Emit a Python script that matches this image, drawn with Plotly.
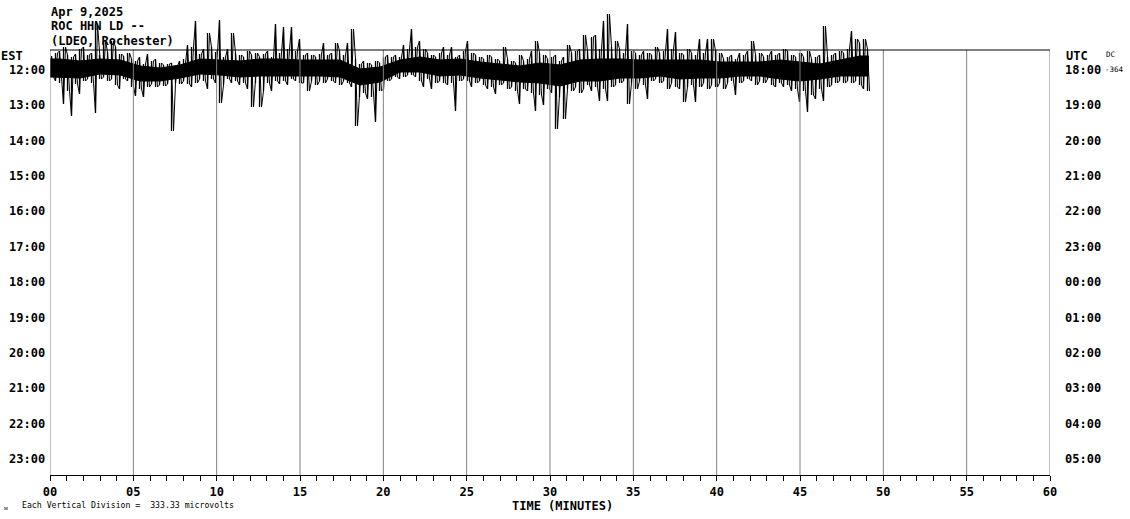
import plotly.graph_objects as go

# ---------------- data ----------------
est_hours = ["12:00", "13:00", "14:00", "15:00", "16:00", "17:00",
             "18:00", "19:00", "20:00", "21:00", "22:00", "23:00"]
utc_hours = ["18:00", "19:00", "20:00", "21:00", "22:00", "23:00",
             "00:00", "01:00", "02:00", "03:00", "04:00", "05:00"]
minute_ticks = [0, 5, 10, 15, 20, 25, 30, 35, 40, 45, 50, 55, 60]
minute_labels = ["00", "05", "10", "15", "20", "25", "30", "35", "40", "45", "50", "55", "60"]

# first line (12:00 EST) of the seismogram.
# per 0.24-minute column: upper and lower excursion (35.36 units = one line spacing)
column_minutes = 0.24
trace_upper = [13, 16, 18, 22, 14, 12, 15, 20, 22, 14,
               16, 45, 14, 28, 17, 28, 22, 15, 13, 16,
               10, 8, 12, 5, 15, 8, 10, 6, 4, 5,
               6, 3, 8, 10, 24, 22, 48, 15, 20, 36,
               22, 17, 49, 12, 20, 36, 16, 14, 12, 18,
               14, 16, 12, 15, 18, 12, 45, 16, 42, 20,
               42, 18, 30, 14, 16, 14, 12, 15, 26, 14,
               16, 26, 18, 14, 26, 40, 10, 5, 8, 6,
               4, 8, 6, 12, 14, 12, 14, 12, 24, 20,
               40, 22, 28, 20, 16, 14, 12, 16, 22, 14,
               22, 12, 14, 18, 28, 16, 14, 12, 10, 14,
               12, 10, 8, 22, 10, 8, 6, 14, 8, 10,
               18, 28, 16, 14, 10, 12, 14, 8, 12, 24,
               16, 18, 20, 34, 18, 32, 34, 20, 48, 55,
               22, 28, 20, 16, 45, 18, 16, 14, 18, 16,
               14, 22, 16, 18, 40, 20, 37, 16, 14, 20,
               16, 14, 30, 16, 30, 30, 18, 16, 10, 12,
               14, 10, 16, 14, 18, 28, 14, 16, 12, 14,
               18, 14, 16, 20, 18, 14, 12, 16, 12, 18,
               10, 12, 14, 43, 12, 14, 16, 18, 16, 20,
               38, 30, 26, 30, 20]
trace_lower = [-8, -12, -14, -35, -22, -47, -15, -25, -12, -10,
               -14, -44, -10, -8, -12, -10, -16, -20, -10, -12,
               -18, -27, -20, -28, -18, -15, -18, -16, -17, -15,
               -62, -14, -15, -12, -15, -18, -14, -10, -12, -20,
               -10, -14, -34, -16, -10, -14, -12, -16, -14, -20,
               -38, -14, -38, -22, -14, -22, -12, -15, -12, -16,
               -10, -12, -14, -14, -22, -12, -16, -12, -14, -10,
               -12, -14, -16, -12, -14, -18, -57, -28, -24, -30,
               -28, -53, -22, -20, -12, -10, -8, -10, -8, -6,
               -6, -8, -12, -18, -10, -20, -14, -12, -14, -16,
               -14, -42, -12, -10, -12, -18, -14, -12, -16, -20,
               -18, -25, -16, -14, -20, -18, -22, -35, -20, -22,
               -24, -42, -26, -36, -20, -24, -60, -28, -50, -20,
               -22, -18, -24, -20, -16, -22, -18, -32, -20, -32,
               -18, -16, -14, -12, -35, -14, -20, -12, -16, -30,
               -12, -10, -14, -12, -20, -14, -18, -20, -33, -18,
               -16, -33, -18, -14, -20, -16, -18, -14, -20, -14,
               -12, -26, -14, -12, -10, -12, -16, -12, -14, -10,
               -16, -18, -14, -18, -16, -22, -20, -33, -22, -43,
               -26, -30, -20, -32, -18, -16, -14, -12, -14, -12,
               -14, -12, -16, -20, -22]
# dense core of the trace, per 1.2-minute block (same units)
block_minutes = 1.2
core_upper = [10, 8, 10, 9, 3, 1, 4, 10, 9, 8,
              10, 10, 9, 9, 9, 0, 2, 9, 12, 9,
              10, 7, 5, 3, 6, 4, 9, 10, 10, 9,
              9, 9, 9, 7, 7, 7, 9, 7, 5, 9, 13]
core_lower = [-8, -9, -5, -6, -12, -12, -9, -5, -6, -8,
              -7, -7, -7, -7, -8, -16, -13, -3, -3, -7,
              -6, -9, -11, -13, -14, -17, -12, -12, -9, -9,
              -7, -10, -9, -9, -7, -7, -10, -12, -10, -7, -7]
units_per_line = 35.36
trace_end_minutes = 49.1

# ---------------- build figure ----------------
MONO = "DejaVu Sans Mono"
HALF_PX = 0.03  # half a pixel in minutes, keeps 1px strokes crisp
fig = go.Figure()

# core band (filled)
cx, cu, cl = [], [], []
for k, (u, l) in enumerate(zip(core_upper, core_lower)):
    cx.append(min((k + 0.5) * block_minutes, trace_end_minutes))
    cu.append(-u / units_per_line)
    cl.append(-l / units_per_line)
cx = [0] + cx + [trace_end_minutes]
cu = [cu[0]] + cu + [cu[-1]]
cl = [cl[0]] + cl + [cl[-1]]
fig.add_trace(go.Scatter(x=cx + cx[::-1], y=cu + cl[::-1], mode="lines",
                         fill="toself", fillcolor="black",
                         line=dict(color="black", width=1),
                         hoverinfo="skip", showlegend=False))

# per-column excursions (thin vertical strokes), two strokes per column
xs, ys = [], []
for i, (u, l) in enumerate(zip(trace_upper, trace_lower)):
    t = i * column_minutes + HALF_PX
    xs += [t + 0.06, t + 0.06, None]
    ys += [-u / units_per_line, -l / units_per_line, None]
fig.add_trace(go.Scatter(x=xs, y=ys, mode="lines",
                         line=dict(color="black", width=1.3),
                         hoverinfo="skip", showlegend=False))
# zig-zag linking neighbouring columns for the noisy texture
zx, zy = [], []
for i, (u, l) in enumerate(zip(trace_upper, trace_lower)):
    t = i * column_minutes + HALF_PX
    zx += [t + 0.06, t + 0.18]
    zy += [-u / units_per_line if i % 2 == 0 else -l / units_per_line,
           -l / units_per_line if i % 2 == 0 else -u / units_per_line]
fig.add_trace(go.Scatter(x=zx, y=zy, mode="lines",
                         line=dict(color="black", width=1),
                         hoverinfo="skip", showlegend=False))

y_top_border = -0.537
y_bottom = 11.482
y_top = -1.951

shapes = []
for m in minute_ticks:
    shapes.append(dict(type="line", xref="x", yref="y", x0=m, x1=m,
                       y0=y_top_border, y1=y_bottom,
                       line=dict(color="#808080", width=1), layer="above"))
shapes.append(dict(type="line", xref="x", yref="y", x0=0, x1=60,
                   y0=y_top_border, y1=y_top_border,
                   line=dict(color="black", width=1), layer="above"))

ann = []
bold = dict(family=MONO, size=12, color="black", weight="bold")
for r, lab in enumerate(est_hours):
    ann.append(dict(x=-0.003, xref="paper", y=r + 0.03, yref="y", text=lab,
                    showarrow=False, xanchor="right", yanchor="middle", font=bold))
for r, lab in enumerate(utc_hours):
    ann.append(dict(x=1.013, xref="paper", y=r + 0.03, yref="y", text=lab,
                    showarrow=False, xanchor="left", yanchor="middle", font=bold))

PL, PR, PT, PB = 50, 1050, 0, 475


def px_ann(x, y, text, size, anchor="left", weight="bold"):
    ann.append(dict(x=(x - PL) / (PR - PL), xref="paper",
                    y=(PB - y) / (PB - PT), yref="paper",
                    text=text, showarrow=False, xanchor=anchor, yanchor="middle",
                    font=dict(family=MONO, size=size, color="black", weight=weight)))


px_ann(49, 12, "Apr 9,2025", 12)
px_ann(49, 26, "ROC HHN LD --", 12)
px_ann(49, 41, "(LDEO, Rochester)", 12)
px_ann(-1, 56, "EST", 12)
px_ann(1064, 56, "UTC", 12)
px_ann(1104, 54, "DC", 7.5, weight="normal")
px_ann(1103, 69, "-364", 7.5, weight="normal")
px_ann(562, 506, "TIME (MINUTES)", 12, anchor="center")
px_ann(20, 505, "Each Vertical Division =  333.33 microvolts", 8.2, weight="normal")
px_ann(2, 507, "\u1d0d", 6, weight="normal")

fig.update_layout(
    width=1130, height=519,
    margin=dict(l=50, r=80, t=0, b=44),
    paper_bgcolor="white", plot_bgcolor="white",
    xaxis=dict(range=[0, 60], showgrid=False, zeroline=False,
               showline=True, linecolor="black", linewidth=1,
               ticks="outside", ticklen=5, tickwidth=1, tickcolor="black",
               tickvals=minute_ticks, ticktext=minute_labels,
               minor=dict(dtick=1, ticks="outside", ticklen=5, tickcolor="black", tickwidth=1),
               tickfont=dict(family=MONO, size=12, color="black", weight="bold"),
               ticklabelstandoff=1),
    yaxis=dict(range=[y_bottom, y_top], visible=False, showgrid=False, zeroline=False),
    shapes=shapes, annotations=ann, showlegend=False,
)

fig.write_html("out.html", config={"displayModeBar": False},
               post_script="document.body.style.margin='0';")
